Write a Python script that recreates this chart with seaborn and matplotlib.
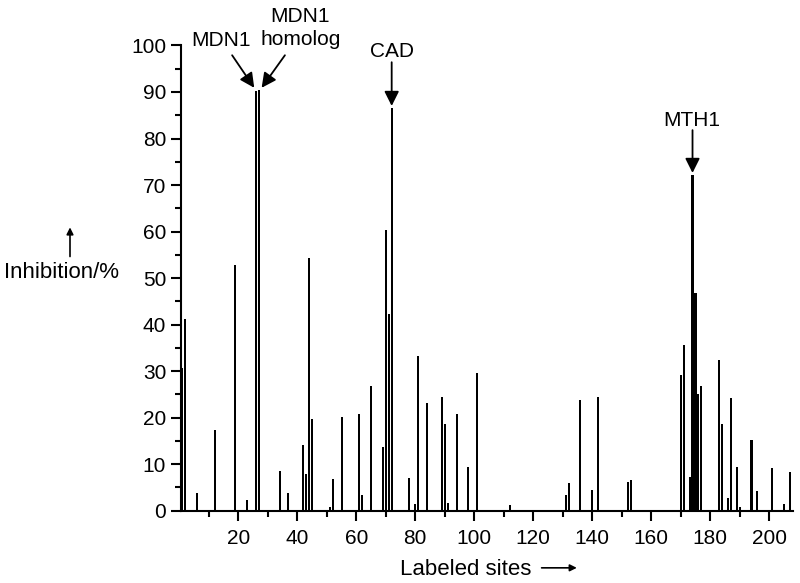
import matplotlib
matplotlib.use("Agg")
import matplotlib.pyplot as plt
from matplotlib.ticker import MultipleLocator
import seaborn as sns
import pandas as pd

sites = [1, 2, 6, 12, 19, 23, 26, 27, 34, 37, 42, 43, 44, 45, 51, 52, 55, 61, 62, 65,
         69, 70, 71, 72, 78, 80, 81, 84, 89, 90, 91, 94, 98, 101, 112, 131, 132, 136,
         140, 142, 152, 153, 170, 171, 173, 174, 175, 176, 177, 183, 184, 186, 187,
         189, 190, 194, 196, 201, 205, 207]
inhibition = [30.6, 41.1, 3.7, 17.3, 52.9, 2.4, 90.3, 90.4, 8.6, 3.7, 14.2, 7.9, 54.4,
              19.7, 0.9, 6.8, 20.2, 20.8, 3.3, 26.9, 13.6, 60.3, 42.3, 86.5, 7.1, 1.4,
              33.3, 23.1, 24.5, 18.6, 1.6, 20.8, 9.4, 29.5, 1.2, 3.4, 5.9, 23.9, 4.4,
              24.5, 6.1, 6.7, 29.2, 35.7, 7.2, 72.1, 46.8, 25.0, 26.8, 32.5, 18.6, 2.7,
              24.3, 9.5, 0.9, 15.2, 4.3, 9.1, 1.4, 8.4]

y_ticks = list(range(0, 101, 10))
x_ticks = list(range(20, 201, 20))

df = pd.DataFrame({"site": sites, "inhibition": inhibition})

sns.set_style("ticks")
plt.rcParams["font.family"] = ["Liberation Sans", "DejaVu Sans"]
plt.rcParams["text.color"] = "black"
plt.rcParams["axes.labelcolor"] = "black"
plt.rcParams["xtick.color"] = "black"
plt.rcParams["ytick.color"] = "black"

fig = plt.figure(figsize=(8, 5.83), dpi=100)
ax = fig.add_axes([0.226, 0.124, 0.765, 0.798])

sns.barplot(data=df, x="site", y="inhibition", native_scale=True, color="black",
            saturation=1, width=0.7, errorbar=None, linewidth=0, ax=ax)

ax.set_xlim(0.5, 208)
ax.set_ylim(0, 100)
ax.set_xticks(x_ticks)
ax.set_yticks(y_ticks)
ax.xaxis.set_minor_locator(MultipleLocator(10))
ax.yaxis.set_minor_locator(MultipleLocator(5))
ax.tick_params(axis="both", which="major", labelsize=15, length=7, width=1.5,
               color="black", labelcolor="black", direction="out")
ax.tick_params(axis="both", which="minor", length=4, width=1.5, color="black", direction="out")
ax.tick_params(axis="x", which="major", pad=6)
ax.set_xlabel("")
ax.set_ylabel("")
for s in ["top", "right"]:
    ax.spines[s].set_visible(False)
for s in ["left", "bottom"]:
    ax.spines[s].set_linewidth(1.5)
    ax.spines[s].set_color("black")

ap = dict(arrowstyle="-|>", color="black", lw=1.3, mutation_scale=22, shrinkA=0, shrinkB=0)
fs = 15

ax.text(14.0, 101.0, "MDN1", ha="center", va="center", fontsize=fs, clip_on=False)
ax.annotate("", xy=(25.4, 90.9), xytext=(17.9, 97.9), arrowprops=ap, annotation_clip=False)
ax.text(41.0, 103.7, "MDN1\nhomolog", ha="center", va="center", fontsize=fs,
        linespacing=1.25, clip_on=False)
ax.annotate("", xy=(27.9, 90.9), xytext=(35.8, 97.9), arrowprops=ap, annotation_clip=False)
ax.text(72.1, 98.6, "CAD", ha="center", va="center", fontsize=fs, clip_on=False)
ax.annotate("", xy=(72.0, 87.0), xytext=(72.0, 96.4), arrowprops=ap, annotation_clip=False)
ax.text(173.8, 83.9, "MTH1", ha="center", va="center", fontsize=fs, clip_on=False)
ax.annotate("", xy=(174.0, 72.6), xytext=(174.0, 81.8), arrowprops=ap, annotation_clip=False)

# axis labels with arrows
fig.text(0.0775, 0.533, "Inhibition/%", ha="center", va="center", fontsize=16)
fig.patches.append(matplotlib.patches.FancyArrowPatch(
    (0.0875, 0.560), (0.0875, 0.610), transform=fig.transFigure,
    arrowstyle="-|>", mutation_scale=10, color="black", lw=1.2, shrinkA=0, shrinkB=0))
fig.text(0.5825, 0.024, "Labeled sites", ha="center", va="center", fontsize=16)
fig.patches.append(matplotlib.patches.FancyArrowPatch(
    (0.677, 0.026), (0.721, 0.026), transform=fig.transFigure,
    arrowstyle="-|>", mutation_scale=10, color="black", lw=1.2, shrinkA=0, shrinkB=0))

fig.savefig("out.png", dpi=100, facecolor="white")
